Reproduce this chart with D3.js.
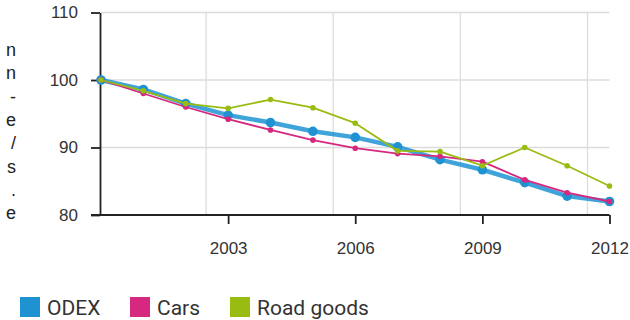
<!DOCTYPE html>
<html>
<head>
<meta charset="utf-8">
<script src="https://cdn.jsdelivr.net/npm/d3@7"></script>
<style>
  html, body { margin: 0; padding: 0; background: #fff; }
  svg { display: block; }
</style>
</head>
<body>
<svg id="chart" width="630" height="320"></svg>
<script>
// Index values (2000 = 100)
const years     = [2000, 2001, 2002, 2003, 2004, 2005, 2006, 2007, 2008, 2009, 2010, 2011, 2012];
const odex      = [100, 98.6, 96.5, 94.8, 93.7, 92.4, 91.5, 90.1, 88.2, 86.7, 84.8, 82.8, 82.0];
const cars      = [100, 98.0, 96.0, 94.2, 92.6, 91.1, 89.9, 89.1, 88.7, 87.9, 85.2, 83.3, 82.0];
const roadGoods = [100, 98.4, 96.5, 95.8, 97.1, 95.9, 93.6, 89.5, 89.4, 87.3, 90.0, 87.3, 84.3];
const xTicks    = [2003, 2006, 2009, 2012];
const yTicks    = [80, 90, 100, 110];
const seriesNames = ["ODEX", "Cars", "Road goods"];
// tail ends of the neighbouring text column
const sideText  = ["n", "n", "-", "e", "/", "s", ".", "e"];

const colors = { "ODEX": "#1f93d2", "Cars": "#d6287f", "Road goods": "#99bc12" };

const svg = d3.select("#chart");

const x = d3.scaleLinear().domain([2000, 2012]).range([101, 609.5]);
const y = d3.scaleLinear().domain([80, 110]).range([215, 12.5]);
const gridShift = 22;

// side text column
svg.append("g")
  .selectAll("text")
  .data(sideText)
  .join("text")
  .attr("x", 16)
  .attr("y", (d, i) => 56 + i * 23.3)
  .attr("text-anchor", "end")
  .attr("font-family", "Liberation Sans, Arial, sans-serif")
  .attr("font-size", 18)
  .attr("fill", "#222")
  .text(d => d);

// grid
const grid = svg.append("g").attr("stroke", "#dcdcdc").attr("stroke-width", 1.3);
grid.selectAll("line.h")
  .data(yTicks.filter(t => t > 80))
  .join("line")
  .attr("x1", x(2000)).attr("x2", x(2012))
  .attr("y1", d => y(d)).attr("y2", d => y(d));
grid.selectAll("line.v")
  .data(xTicks)
  .join("line")
  .attr("x1", d => x(d) - gridShift).attr("x2", d => x(d) - gridShift)
  .attr("y1", y(110)).attr("y2", y(80));

// axes
const axisFont = "Liberation Sans, Arial, sans-serif";
const yAxis = svg.append("g")
  .attr("transform", `translate(${x(2000) - 1},0)`)
  .call(d3.axisLeft(y).tickValues(yTicks).tickSize(9).tickSizeOuter(0).tickPadding(13));
const xAxis = svg.append("g")
  .attr("transform", `translate(0,${y(80)})`)
  .call(d3.axisBottom(x).tickValues(xTicks).tickFormat(d3.format("d")).tickSize(9).tickSizeOuter(0).tickPadding(18));

[yAxis, xAxis].forEach(a => {
  a.selectAll("path, line").attr("stroke", "#222").attr("stroke-width", 1.8);
  a.selectAll("text").attr("font-family", axisFont).attr("font-size", 17).attr("fill", "#333");
});
xAxis.select(".domain").attr("d", `M${x(2000) - 10},0H${x(2012)}`);

// series
const series = [
  { name: "ODEX", values: odex, width: 4.5, r: 4.8, opacity: 0.85 },
  { name: "Cars", values: cars, width: 1.8, r: 2.8, opacity: 1 },
  { name: "Road goods", values: roadGoods, width: 1.8, r: 2.8, opacity: 1 }
];

const line = d3.line().x(d => x(d.year)).y(d => y(d.value));

series.forEach(s => {
  const pts = years.map((yr, i) => ({ year: yr, value: s.values[i] }));
  const g = svg.append("g");
  g.append("path")
    .datum(pts)
    .attr("d", line)
    .attr("fill", "none")
    .attr("stroke", colors[s.name])
    .attr("stroke-width", s.width)
    .attr("stroke-opacity", s.opacity)
    .attr("stroke-linejoin", "round");
  g.selectAll("circle")
    .data(pts)
    .join("circle")
    .attr("cx", d => x(d.year))
    .attr("cy", d => y(d.value))
    .attr("r", s.r)
    .attr("fill", colors[s.name]);
});

// legend
const legendX = [20, 130, 230];
const legend = svg.append("g")
  .selectAll("g")
  .data(seriesNames)
  .join("g")
  .attr("transform", (d, i) => `translate(${legendX[i]},297)`);
legend.append("rect")
  .attr("width", 20).attr("height", 20)
  .attr("fill", d => colors[d]);
legend.append("text")
  .attr("x", 27).attr("y", 18)
  .attr("font-family", "Roboto, Arial, sans-serif")
  .attr("font-size", 21)
  .attr("fill", "#333")
  .text(d => d);
</script>
</body>
</html>
